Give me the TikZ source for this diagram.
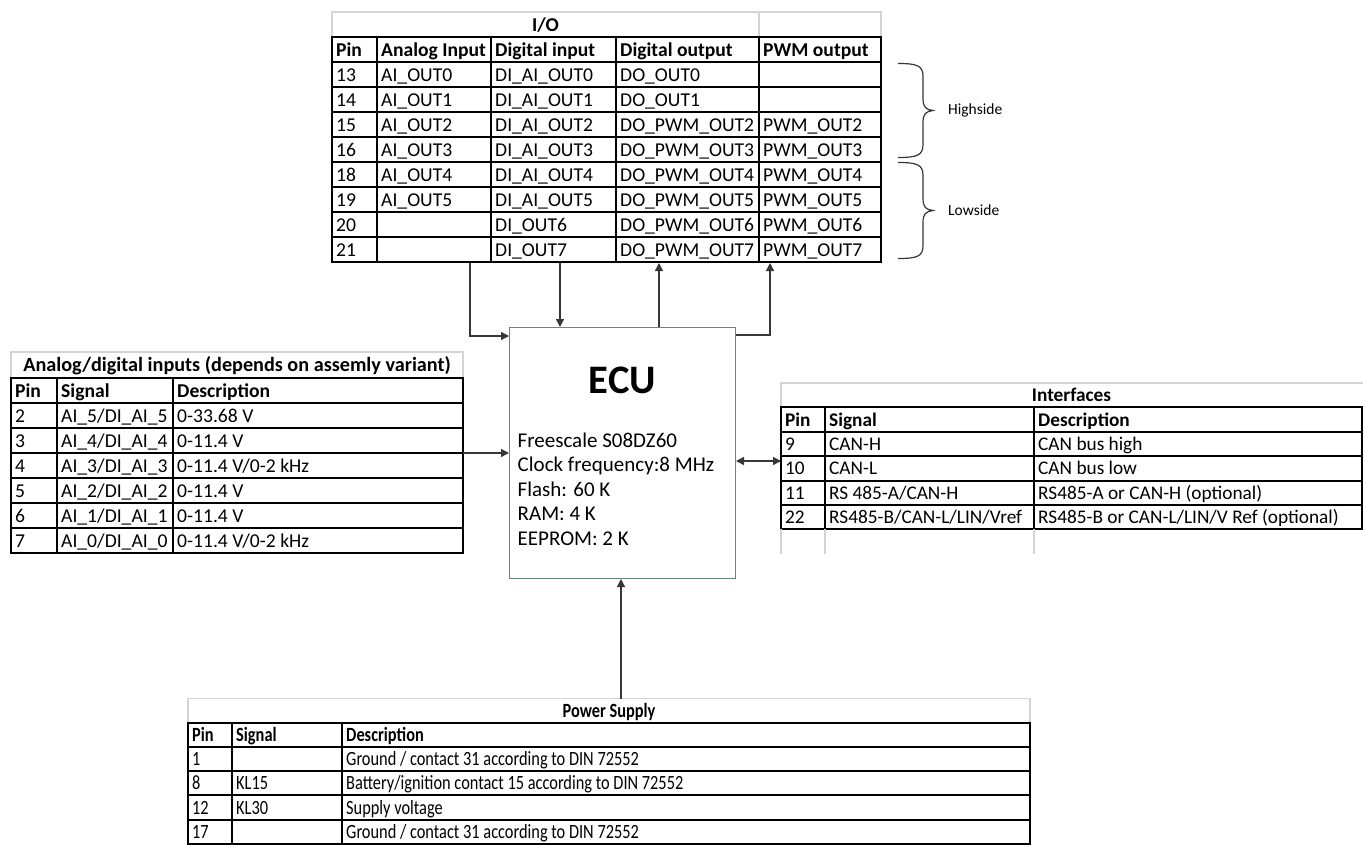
\documentclass[tikz,border=0pt]{standalone}
\usepackage{fontspec}
\setmainfont{Carlito}
\newfontfamily\narrowfamily[FakeStretch=0.81]{Carlito}
\usetikzlibrary{arrows.meta}

\definecolor{titlegray}{RGB}{212,212,212}
\definecolor{ecuedge}{RGB}{105,135,120}
\definecolor{wiregray}{RGB}{55,55,55}

\newcommand{\tabfont}{\fontsize{19.6}{24}\selectfont}
\newcommand{\ifcfont}{\fontsize{19.3}{23}\selectfont}
\newcommand{\pwrfont}{\narrowfamily\fontsize{20.2}{24}\selectfont}

\tikzset{
  cellrule/.style={line width=2pt, line cap=rect},
  titlerule/.style={line width=1.5pt, titlegray},
  celltext/.style={anchor=base west, inner sep=0pt, font=\tabfont},
  headtext/.style={celltext, font=\tabfont\bfseries},
  titletext/.style={anchor=base, inner sep=0pt, font=\tabfont\bfseries},
  ecubox/.style={draw=ecuedge, line width=1pt, minimum width=226pt, minimum height=251pt, inner sep=0pt},
  ecutitle/.style={anchor=base, inner sep=0pt, font=\fontsize{40.5}{48}\selectfont\bfseries},
  spectext/.style={anchor=base west, inner sep=0pt, font=\fontsize{21}{25}\selectfont},
  sidetext/.style={anchor=west, inner sep=0pt, font=\fontsize{15.5}{18}\selectfont},
  bracepen/.style={wiregray, line width=1.2pt},
  wire/.style={wiregray, line width=1.3pt, -{Triangle[length=8pt,width=8pt]}},
  biwire/.style={wire, {Triangle[length=8pt,width=8pt]}-{Triangle[length=8pt,width=8pt]}},
}

\begin{document}
\begin{tikzpicture}[x=1pt,y=-1pt]
  \useasboundingbox (0,0) rectangle (1363,844);

  % I/O table
  \draw[titlerule] (332,12) rectangle (881,37) (759,12) -- (759,37);
  \node[titletext] (io-title) at (545.5,31.1) {I/O};
  \foreach \k in {0,...,9}
    \draw[cellrule] (332,37+25*\k) -- (881,37+25*\k);
  \foreach \x in {332,377,491,616,759,881}
    \draw[cellrule] (\x,37) -- (\x,262);
  \foreach \x/\head [count=\c] in {332/Pin, 377/Analog Input, 491/Digital input, 616/Digital output, 759/PWM output}
    \node[headtext] (io-head-\c) at (\x+4,56.1) {\head};
  \foreach \pin/\ai/\di/\dout/\pwm [count=\r] in {
      13/AI\_OUT0/DI\_AI\_OUT0/DO\_OUT0/{},
      14/AI\_OUT1/DI\_AI\_OUT1/DO\_OUT1/{},
      15/AI\_OUT2/DI\_AI\_OUT2/DO\_PWM\_OUT2/PWM\_OUT2,
      16/AI\_OUT3/DI\_AI\_OUT3/DO\_PWM\_OUT3/PWM\_OUT3,
      18/AI\_OUT4/DI\_AI\_OUT4/DO\_PWM\_OUT4/PWM\_OUT4,
      19/AI\_OUT5/DI\_AI\_OUT5/DO\_PWM\_OUT5/PWM\_OUT5,
      20/{}/DI\_OUT6/DO\_PWM\_OUT6/PWM\_OUT6,
      21/{}/DI\_OUT7/DO\_PWM\_OUT7/PWM\_OUT7} {
    \node[celltext] (io-pin-\r) at (336,37+25*\r+19) {\pin};
    \node[celltext] (io-ai-\r) at (381,37+25*\r+19) {\ai};
    \node[celltext] (io-di-\r) at (495,37+25*\r+19) {\di};
    \node[celltext] (io-do-\r) at (620,37+25*\r+19) {\dout};
    \node[celltext] (io-pwm-\r) at (763,37+25*\r+19) {\pwm};
  }

  % high/low side braces
  \foreach \ya/\yb/\lab/\nm in {63.5/157.5/Highside/high, 162.5/258.5/Lowside/low} {
    \pgfmathsetmacro\ym{(\ya+\yb)/2}
    \draw[bracepen] (898,\ya) .. controls (917,\ya) and (923,\ya+2) .. (923,\ya+13)
      -- (923,\ym-12) .. controls (923,\ym-3) and (926,\ym-1) .. (933,\ym)
      .. controls (926,\ym+1) and (923,\ym+3) .. (923,\ym+12)
      -- (923,\yb-13) .. controls (923,\yb-2) and (917,\yb) .. (898,\yb);
    \node[sidetext] (\nm) at (948,\ym) {\lab};
  }

  % ECU
  \node[ecubox] (ecu) at (622.5,453) {};
  \node[ecutitle] (ecu-title) at (622.5,393) {ECU};
  \foreach \spec [count=\i] in {Freescale S08DZ60, Clock frequency:8 MHz, Flash: 60 K, RAM: 4 K, EEPROM: 2 K}
    \node[spectext] (spec-\i) at (517.5,423.1+24.4*\i) {\spec};

  % analog/digital inputs
  \draw[titlerule] (11,352) rectangle (463,378);
  \node[titletext, font=\fontsize{20.2}{24}\selectfont\bfseries] (adin-title) at (237,371.6) {Analog/digital inputs (depends on assemly variant)};
  \foreach \k in {0,...,7}
    \draw[cellrule] (11,378+25*\k) -- (463,378+25*\k);
  \foreach \x in {11,57,173,463}
    \draw[cellrule] (\x,378) -- (\x,553);
  \foreach \x/\head [count=\c] in {11/Pin, 57/Signal, 173/Description}
    \node[headtext] (adin-head-\c) at (\x+4,397) {\head};
  \foreach \pin/\sig/\rng [count=\r] in {
      2/{AI\_5/DI\_AI\_5}/0-33.68 V,
      3/{AI\_4/DI\_AI\_4}/0-11.4 V,
      4/{AI\_3/DI\_AI\_3}/{0-11.4 V/0-2 kHz},
      5/{AI\_2/DI\_AI\_2}/0-11.4 V,
      6/{AI\_1/DI\_AI\_1}/0-11.4 V,
      7/{AI\_0/DI\_AI\_0}/{0-11.4 V/0-2 kHz}} {
    \node[celltext] (adin-pin-\r) at (15,378+25*\r+19) {\pin};
    \node[celltext] (adin-sig-\r) at (61,378+25*\r+19) {\sig};
    \node[celltext] (adin-rng-\r) at (177,378+25*\r+19) {\rng};
  }

  % interfaces
  \draw[titlerule] (781,383) rectangle (1370,407.4);
  \node[titletext, font=\ifcfont\bfseries] (ifc-title) at (1071.5,401.6) {Interfaces};
  \foreach \k in {0,...,5}
    \draw[cellrule] (781,407.4+24.4*\k) -- (1362,407.4+24.4*\k);
  \foreach \x in {781,825,1034,1362}
    \draw[cellrule] (\x,407.4) -- (\x,529.4);
  \foreach \x in {781,825,1034}
    \draw[titlerule] (\x,529.4) -- (\x,554);
  \foreach \x/\head [count=\c] in {781/Pin, 825/Signal, 1034/Description}
    \node[headtext, font=\ifcfont\bfseries] (ifc-head-\c) at (\x+4,426) {\head};
  \foreach \pin/\sig/\desc [count=\r] in {
      9/CAN-H/CAN bus high,
      10/CAN-L/CAN bus low,
      11/{RS 485-A/CAN-H}/RS485-A or CAN-H (optional),
      22/{RS485-B/CAN-L/LIN/Vref}/{RS485-B or CAN-L/LIN/V Ref (optional)}} {
    \node[celltext, font=\ifcfont] (ifc-pin-\r) at (785,407.4+24.4*\r+18.6) {\pin};
    \node[celltext, font=\ifcfont] (ifc-sig-\r) at (829,407.4+24.4*\r+18.6) {\sig};
    \node[celltext, font=\ifcfont] (ifc-desc-\r) at (1038,407.4+24.4*\r+18.6) {\desc};
  }

  % power supply
  \draw[titlerule] (188,698.5) rectangle (1030,722.7);
  \node[titletext, font=\pwrfont\bfseries] (pwr-title) at (609,717.2) {Power Supply};
  \foreach \k in {0,...,5}
    \draw[cellrule] (188,722.7+24.2*\k) -- (1030,722.7+24.2*\k);
  \foreach \x in {188,232,342,1030}
    \draw[cellrule] (\x,722.7) -- (\x,843.7);
  \foreach \x/\head [count=\c] in {188/Pin, 232/Signal, 342/Description}
    \node[headtext, font=\pwrfont\bfseries] (pwr-head-\c) at (\x+4,741.4) {\head};
  \foreach \pin/\sig/\desc [count=\r] in {
      1/{}/{Ground / contact 31 according to DIN 72552},
      8/KL15/{Battery/ignition contact 15 according to DIN 72552},
      12/KL30/Supply voltage,
      17/{}/{Ground / contact 31 according to DIN 72552}} {
    \node[celltext, font=\pwrfont] (pwr-pin-\r) at (192,722.7+24.2*\r+18.7) {\pin};
    \node[celltext, font=\pwrfont] (pwr-sig-\r) at (236,722.7+24.2*\r+18.7) {\sig};
    \node[celltext, font=\pwrfont] (pwr-desc-\r) at (346,722.7+24.2*\r+18.7) {\desc};
  }

  % connectors
  \coordinate (io-ai) at (470,263);
  \coordinate (io-di) at (560,263);
  \coordinate (io-do) at (659,263);
  \coordinate (io-pwm) at (770,263);
  \coordinate (adin-out) at (463,453);
  \coordinate (ifc-in) at (781,461);
  \coordinate (pwr-out) at (621,698.5);
  \draw[wire] (io-ai) |- ([yshift=-9pt]ecu.north west);
  \draw[wire] (io-di) -- (io-di |- ecu.north);
  \draw[wire] (io-do |- ecu.north) -- (io-do);
  \draw[wire] ([yshift=-8pt]ecu.north east) -| (io-pwm);
  \draw[wire] (adin-out) -- (adin-out -| ecu.west);
  \draw[biwire] (ifc-in -| ecu.east) -- (ifc-in);
  \draw[wire] (pwr-out) -- (pwr-out |- ecu.south);
\end{tikzpicture}
\end{document}
